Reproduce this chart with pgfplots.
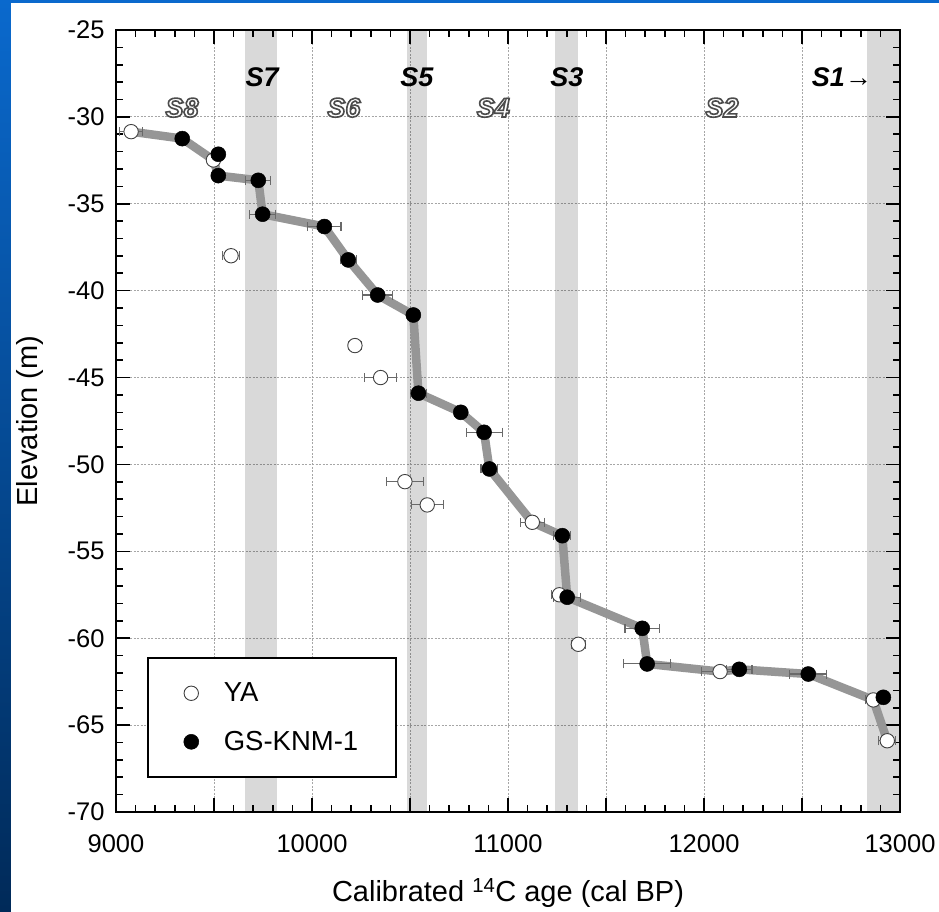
\documentclass[border=0pt]{standalone}
\usepackage{pgfplots}
\pgfplotsset{compat=1.18}
\usepackage{fontspec}
\setmainfont{Liberation Sans}
\newfontfamily\outfont{Liberation Sans}[FakeBold=6]
\definecolor{linegray}{RGB}{150,150,150}
\definecolor{errgray}{RGB}{105,105,105}
\definecolor{bluetop}{RGB}{10,105,205}
\definecolor{bluebot}{RGB}{0,40,85}
\newcommand{\outl}[1]{{\outfont\bfseries\itshape\color{white}\special{pdf:literal direct 0.3 G}#1}}
\begin{document}
\begin{tikzpicture}
\path[use as bounding box] (0pt,0pt) rectangle (939pt,911pt);
\shade[top color=bluetop,bottom color=bluebot] (0pt,-30pt) rectangle (939pt,911pt);
\fill[white] (11pt,-30pt) rectangle (960pt,907.5pt);
\begin{axis}[
  at={(116pt,99pt)}, anchor=south west,
  scale only axis, width=784pt, height=782pt,
  xmin=9000, xmax=13000, ymin=-70, ymax=-25,
  xtick={9000,9500,...,13000},
  xticklabels={9000,,10000,,11000,,12000,,13000},
  scaled x ticks=false, scaled y ticks=false,
  ytick={-70,-65,...,-25},
  minor x tick num=4, minor y tick num=4,
  tick align=inside, tick pos=both,
  major tick length=14pt, minor tick length=7pt,
  major tick style={black,line width=1.6pt},
  minor tick style={black,line width=1.6pt},
  axis line style={black,line width=1.8pt},
  grid=major,
  major grid style={black!35,line width=0.8pt,dash pattern=on 2pt off 1.5pt},
  /pgf/number format/assume math mode=true,
  ticklabel style={font=\fontsize{25.5}{27}\selectfont},
  xticklabel style={yshift=-19pt},
  yticklabel style={xshift=-8pt},
  xlabel={Calibrated \textsuperscript{14}C age (cal BP)},
  ylabel={Elevation (m)},
  label style={font=\fontsize{29}{32}\selectfont},
  xlabel style={at={(axis description cs:0.5,-0.1036)},anchor=center,inner sep=0pt},
  ylabel style={at={(axis description cs:-0.1097,0.5)},anchor=center,inner sep=0pt},
  legend style={at={(0.0395,0.0435)},anchor=south west,draw=black,line width=1.6pt,
    font=\fontsize{27.5}{30}\selectfont, inner xsep=36pt, inner ysep=23pt, row sep=24pt},
  legend cell align=left,
]
% shaded stadial bands (translucent so the grid shows through)
\addplot[forget plot,fill=black,fill opacity=0.15,draw=none] coordinates {(9658,-70) (9658,-25) (9821,-25) (9821,-70)};
\addplot[forget plot,fill=black,fill opacity=0.15,draw=none] coordinates {(10485,-70) (10485,-25) (10587,-25) (10587,-70)};
\addplot[forget plot,fill=black,fill opacity=0.15,draw=none] coordinates {(11240,-70) (11240,-25) (11357,-25) (11357,-70)};
\addplot[forget plot,fill=black,fill opacity=0.15,draw=none] coordinates {(12832,-70) (12832,-25) (13000,-25) (13000,-70)};
% thick gray trend line
\addplot[forget plot,linegray,line width=8.5pt,line join=round,line cap=round] coordinates {
(9077,-30.85) (9338,-31.25) (9497,-32.48) (9522,-33.38) (9726,-33.65) (9748,-35.6)
(10063,-36.31) (10185,-38.23) (10335,-40.25) (10517,-41.4) (10543,-45.9) (10759,-47.0)
(10878,-48.15) (10905,-50.26) (11124,-53.33) (11277,-54.1) (11302,-57.64) (11685,-59.43)
(11710,-61.48) (12082,-61.92) (12180,-61.79) (12532,-62.06) (12864,-63.55) (12935,-65.9)};
% YA
\addplot[only marks, mark=*, mark size=7.2pt,
  mark options={fill=white,draw=black!75,line width=0.9pt},
  error bars/.cd, x dir=both, x explicit,
  error bar style={errgray,line width=1.1pt},
  error mark options={rotate=90,mark size=4.5pt,errgray,line width=1.1pt}]
  table[x=x,y=y,x error=e] {
x y e
9077 -30.85 60
9497 -32.48 25
9587 -37.99 42
10219 -43.16 35
10350 -45.0 80
10474 -50.99 94
10588 -52.33 81
11124 -53.33 60
11262 -57.5 40
11359 -60.35 35
12082 -61.92 94
12864 -63.55 40
12935 -65.9 43
};
\addlegendentry{\hspace{23pt}YA}
% GS-KNM-1
\addplot[only marks, mark=*, mark size=7.5pt,
  mark options={fill=black,draw=black,line width=0.5pt},
  error bars/.cd, x dir=both, x explicit,
  error bar style={errgray,line width=1.1pt},
  error mark options={rotate=90,mark size=4.5pt,errgray,line width=1.1pt}]
  table[x=x,y=y,x error=e] {
x y e
9338 -31.25 25
9522 -32.15 20
9522 -33.38 20
9726 -33.65 64
9748 -35.6 68
10063 -36.31 85
10185 -38.23 40
10335 -40.25 77
10517 -41.4 30
10543 -45.9 40
10759 -47.0 30
10878 -48.15 92
10905 -50.26 43
11277 -54.1 43
11302 -57.64 68
11685 -59.43 88
11710 -61.48 119
12180 -61.79 65
12532 -62.06 95
12915 -63.4 30
};
\addlegendentry{\hspace{23pt}GS-KNM-1}
% stadial labels
\node[font=\fontsize{27}{29}\selectfont\bfseries\itshape] at (axis cs:9745,-27.69) {S7};
\node[font=\fontsize{27}{29}\selectfont\bfseries\itshape] at (axis cs:10535,-27.69) {S5};
\node[font=\fontsize{27}{29}\selectfont\bfseries\itshape] at (axis cs:11300,-27.69) {S3};
\node[font=\fontsize{27}{29}\selectfont\bfseries\itshape] at (axis cs:12704,-27.69) {S1→};
\node[font=\fontsize{27}{29}\selectfont] at (axis cs:9337,-29.47) {\outl{S8}};
\node[font=\fontsize{27}{29}\selectfont] at (axis cs:10163,-29.47) {\outl{S6}};
\node[font=\fontsize{27}{29}\selectfont] at (axis cs:10925,-29.47) {\outl{S4}};
\node[font=\fontsize{27}{29}\selectfont] at (axis cs:12092,-29.47) {\outl{S2}};
\end{axis}
\end{tikzpicture}
\end{document}
